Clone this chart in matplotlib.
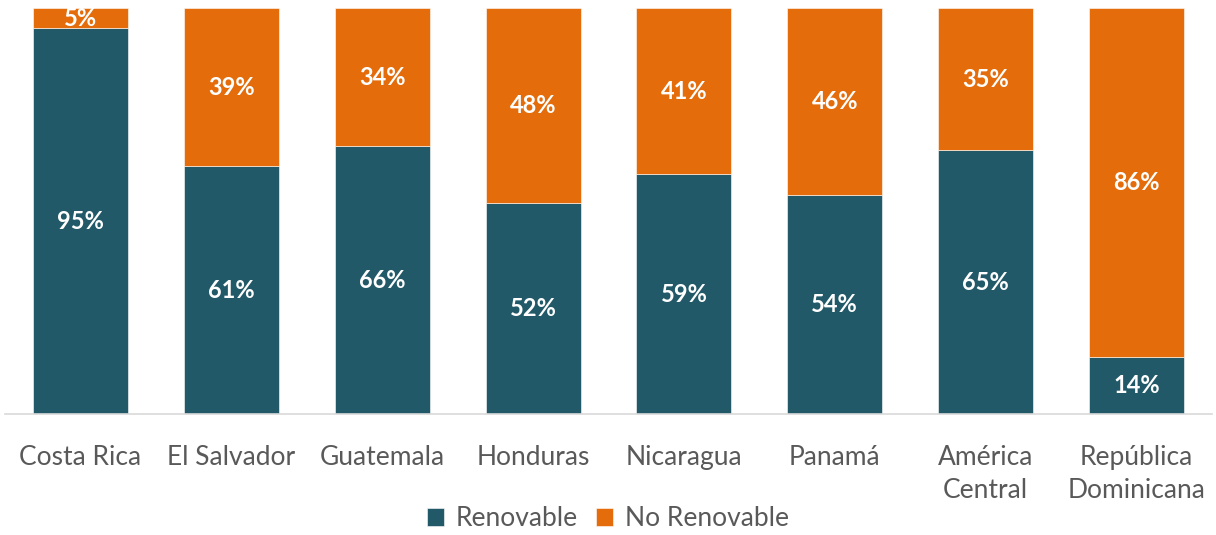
import matplotlib
matplotlib.use("Agg")
import matplotlib.pyplot as plt
import numpy as np

categories = ["Costa Rica", "El Salvador", "Guatemala", "Honduras", "Nicaragua",
              "Panamá", "América\nCentral", "República\nDominicana"]
renovable = [95, 61, 66, 52, 59, 54, 65, 14]
no_renovable = [5, 39, 34, 48, 41, 46, 35, 86]

plt.rcParams['font.family'] = ['Lato', 'DejaVu Sans']
teal = "#215968"
orange = "#E46C0A"

fig = plt.figure(figsize=(12.16, 5.35), dpi=100)
ax = fig.add_axes([5/1216, 1-414/535, 1207/1216, 406/535])
x = np.arange(len(categories))
w = 0.63
b1 = ax.bar(x, renovable, w, color=teal, label="Renovable", edgecolor="white", linewidth=0.4)
b2 = ax.bar(x, no_renovable, w, bottom=renovable, color=orange, label="No Renovable", edgecolor="white", linewidth=0.4)

for xi, r, n in zip(x, renovable, no_renovable):
    ax.text(xi, r/2, f"{r}%", ha="center", va="center", color="white", fontsize=17, fontweight="bold")
    ax.text(xi, r + n/2, f"{n}%", ha="center", va="center", color="white", fontsize=17, fontweight="bold")

ax.set_xlim(-0.5, len(categories)-0.5)
ax.set_ylim(0, 100)
ax.set_yticks([])
ax.set_xticks(x)
ax.set_xticklabels(categories, fontsize=19, color="#595959", linespacing=1.4)
ax.tick_params(axis="x", length=0, pad=22)
for s in ["top", "right", "left"]:
    ax.spines[s].set_visible(False)
ax.spines["bottom"].set_color("#d9d9d9")
ax.spines["bottom"].set_linewidth(1.2)

leg = fig.legend(handles=[b1, b2], labels=["Renovable", "No Renovable"], loc="center",
                 bbox_to_anchor=(608/1216, 1-519/535), ncol=2, frameon=False,
                 fontsize=19, handlelength=0.65, handleheight=0.65, handletextpad=0.45,
                 columnspacing=0.7)
for t in leg.get_texts():
    t.set_color("#595959")

fig.savefig("out.png", dpi=100)
